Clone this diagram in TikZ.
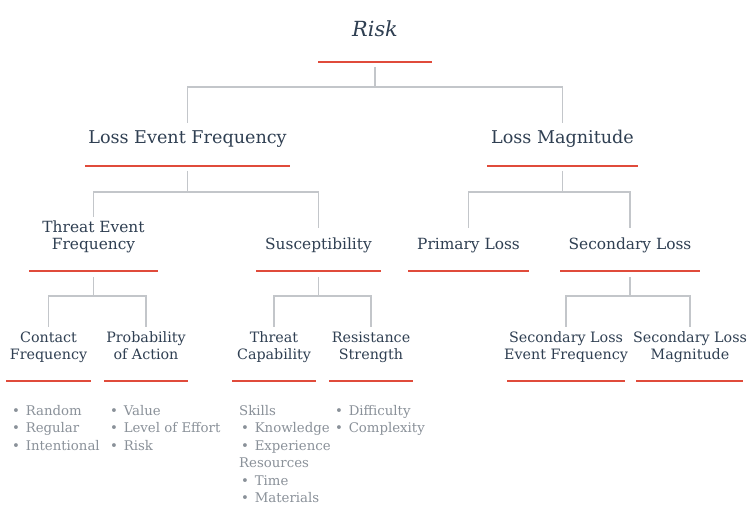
\documentclass[tikz,border=0pt]{standalone}
\usepackage{fontspec}
\setmainfont{DejaVu Serif}
\usetikzlibrary{calc}
\definecolor{ink}{HTML}{2F3F52}
\definecolor{redline}{HTML}{E04B3B}
\definecolor{conncol}{HTML}{C3C6CA}
\definecolor{bulletcol}{HTML}{8A9199}
\newcommand{\bul}{•\hspace{1.5pt} }
\tikzset{
  lvlzero/.style={text=ink, inner sep=0pt, anchor=base, font=\fontsize{20.8}{24}\selectfont\itshape},
  lvlone/.style={text=ink, inner sep=0pt, anchor=base, font=\fontsize{17.6}{20}\selectfont},
  lvltwo/.style={text=ink, inner sep=0pt, anchor=base, align=center, font=\fontsize{15.4}{17}\selectfont},
  lvlthree/.style={text=ink, inner sep=0pt, anchor=base, align=center, font=\fontsize{14.3}{17}\selectfont},
  blist/.style={text=bulletcol, inner sep=0pt, anchor=base west, align=left, font=\fontsize{13.3}{17.5}\selectfont},
  uline/.style={draw=redline, line width=2pt},
  conn/.style={draw=conncol, line width=1.5pt}
}
\begin{document}
\begin{tikzpicture}[x=1pt,y=-1pt]
\useasboundingbox[fill=white] (0,0) rectangle (750,524);
% ---- texts (base = baseline of last line)
\node[lvlzero] (risk) at (375,37) {Risk};
\node[lvlone] (lef) at (187.5,144) {Loss Event Frequency};
\node[lvlone] (lm) at (562.5,144) {Loss Magnitude};
\node[lvltwo] (tef) at (93.5,249) {Threat Event\\Frequency};
\node[lvltwo] (sus) at (318.5,249) {Susceptibility};
\node[lvltwo] (pl) at (468.5,249) {Primary Loss};
\node[lvltwo] (sl) at (630,249) {Secondary Loss};
\node[lvlthree] (cf) at (48.5,359) {Contact\\Frequency};
\node[lvlthree] (poa) at (146,359) {Probability\\of Action};
\node[lvlthree] (tc) at (274,359) {Threat\\Capability};
\node[lvlthree] (rs) at (371,359) {Resistance\\Strength};
\node[lvlthree] (slef) at (566,359) {Secondary Loss\\Event Frequency};
\node[lvlthree] (slm) at (690,359) {Secondary Loss\\Magnitude};
% ---- bullet lists
\node[blist] (cfl) at (12,450) {\bul Random\\\bul Regular\\\bul Intentional};
\node[blist] (poal) at (110,450) {\bul Value\\\bul Level of Effort\\\bul Risk};
\node[blist] (tcl) at (239,502.5) {Skills\\\hspace*{2pt}\bul Knowledge\\\hspace*{2pt}\bul Experience\\Resources\\\hspace*{2pt}\bul Time\\\hspace*{2pt}\bul Materials};
\node[blist] (rsl) at (335,432.5) {\bul Difficulty\\\bul Complexity};
% ---- underlines (coordinates at centres)
\coordinate (riskU) at (375,62);
\coordinate (lefU) at (187.5,166);
\coordinate (lmU) at (562.5,166);
\coordinate (tefU) at (93.5,271);
\coordinate (susU) at (318.5,271);
\coordinate (plU) at (468.5,271);
\coordinate (slU) at (630,271);
\coordinate (cfU) at (48.5,381);
\coordinate (poaU) at (146,381);
\coordinate (tcU) at (274,381);
\coordinate (rsU) at (371,381);
\coordinate (slefU) at (566,381);
\coordinate (slmU) at (689.5,381);
\draw[uline] ($(riskU)+(-57,0)$) -- ($(riskU)+(57,0)$);
\draw[uline] ($(lefU)+(-102.5,0)$) -- ($(lefU)+(102.5,0)$);
\draw[uline] ($(lmU)+(-75.5,0)$) -- ($(lmU)+(75.5,0)$);
\draw[uline] ($(tefU)+(-64.5,0)$) -- ($(tefU)+(64.5,0)$);
\draw[uline] ($(susU)+(-62.5,0)$) -- ($(susU)+(62.5,0)$);
\draw[uline] ($(plU)+(-60.5,0)$) -- ($(plU)+(60.5,0)$);
\draw[uline] ($(slU)+(-70,0)$) -- ($(slU)+(70,0)$);
\draw[uline] ($(cfU)+(-42.5,0)$) -- ($(cfU)+(42.5,0)$);
\draw[uline] ($(poaU)+(-42,0)$) -- ($(poaU)+(42,0)$);
\draw[uline] ($(tcU)+(-42,0)$) -- ($(tcU)+(42,0)$);
\draw[uline] ($(rsU)+(-42,0)$) -- ($(rsU)+(42,0)$);
\draw[uline] ($(slefU)+(-59,0)$) -- ($(slefU)+(59,0)$);
\draw[uline] ($(slmU)+(-53.5,0)$) -- ($(slmU)+(53.5,0)$);
% ---- connector tops
\coordinate (lefT) at (187.5,123);
\coordinate (lmT) at (562.5,123);
\coordinate (tefT) at (93.5,217);
\coordinate (susT) at (318.5,228);
\coordinate (plT) at (468.5,228);
\coordinate (slT) at (630,228);
\coordinate (cfT) at (48.5,327);
\coordinate (poaT) at (146,327);
\coordinate (tcT) at (274,327);
\coordinate (rsT) at (371,327);
\coordinate (slefT) at (566,327);
\coordinate (slmT) at (690,327);
% ---- connectors
\draw[conn] ($(riskU)+(0,5)$) -- ($(riskU)+(0,25)$) -| (lefT);
\draw[conn] ($(riskU)+(0,25)$) -| (lmT);
\draw[conn] ($(lefU)+(0,5)$) -- ($(lefU)+(0,26)$) -| (tefT);
\draw[conn] ($(lefU)+(0,26)$) -| (susT);
\draw[conn] ($(lmU)+(0,5)$) -- ($(lmU)+(0,26)$) -| (plT);
\draw[conn] ($(lmU)+(0,26)$) -| (slT);
\draw[conn] ($(tefU)+(0,6)$) -- ($(tefU)+(0,25)$) -| (cfT);
\draw[conn] ($(tefU)+(0,25)$) -| (poaT);
\draw[conn] ($(susU)+(0,6)$) -- ($(susU)+(0,25)$) -| (tcT);
\draw[conn] ($(susU)+(0,25)$) -| (rsT);
\draw[conn] ($(slU)+(0,6)$) -- ($(slU)+(0,25)$) -| (slefT);
\draw[conn] ($(slU)+(0,25)$) -| (slmT);
\end{tikzpicture}
\end{document}
